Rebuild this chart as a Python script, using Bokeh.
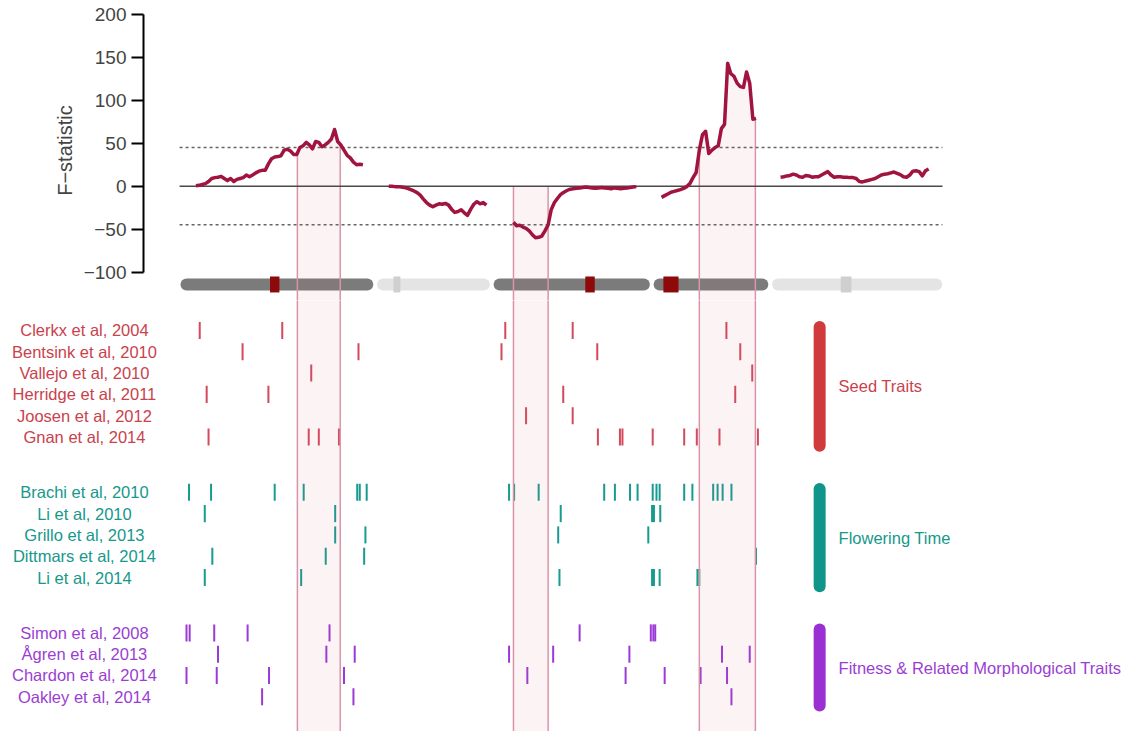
import numpy as np
from bokeh.plotting import figure
from bokeh.layouts import column
from bokeh.models import Range1d, FixedTicker
from bokeh.core.properties import value
from bokeh.embed import file_html
from bokeh.resources import INLINE

FONT = "Liberation Sans"

# ---------------------------------------------------------------------------
# Genome layout: five chromosomes laid end to end (Mb)
# ---------------------------------------------------------------------------
chrom_lengths = [28.7, 16.0, 22.9, 16.3, 25.1]
chrom_gap = 2.5
centromere_mid = [14.0, 2.2, 14.35, 1.8, 10.8]      # Mb from chromosome start
centromere_span = [1.5, 1.1, 1.5, 2.4, 1.7]

# ---------------------------------------------------------------------------
# Sliding-window F-statistic, one window every 0.5 Mb
# ---------------------------------------------------------------------------
window_step = 0.5
fstat_first = [1.5, 0.9, 2.2, 0.3, 0.4]              # first window, Mb from chromosome start
fstat_chr1 = [0.5, 1, 2, 3, 5.5, 9, 10, 10.5, 11.5, 9, 6.5, 9, 5.5, 8, 9, 10,
              13, 11, 13, 15.5, 17.5, 18.5, 18.5, 26, 32, 34, 34.5, 35.5, 42, 43,
              41, 37, 37, 45, 47, 51, 48, 43.5, 52, 51, 46, 48, 51, 55, 66, 52,
              48, 42, 36, 33, 28, 25, 25.5, 25]
fstat_chr2 = [0, 0, -0.5, -0.5, -1, -1.5, -2.5, -4, -5.5, -7.5, -10.5, -15, -19,
              -22, -24, -22, -20.5, -21, -20, -22, -27, -30.5, -29.5, -27.5, -31,
              -34, -27, -21, -18, -20.5, -19, -22]
fstat_chr3 = [-42, -46, -45.5, -47.5, -49, -52, -56.5, -60, -59.5, -58, -52, -45,
              -27, -19, -14, -9.5, -7, -5, -3.5, -3, -2.5, -2, -1.5, -1, -1.5, -2,
              -2.5, -2, -1.5, -2, -2.5, -3, -2, -2.5, -3, -2.5, -2, -1.5, -1, -0.5]
fstat_chr4 = [-13, -11, -9, -7, -6, -5, -4, -2.5, -0.5, 3, 10, 16, 42, 60, 64, 38,
              42, 45, 47, 67, 72, 143, 131, 128, 120, 116, 115, 133, 120, 78, 79]
fstat_chr5 = [10.5, 11, 12, 12.5, 14, 13, 11, 10.5, 12.5, 12, 10.5, 11, 11, 13, 15,
              17, 13, 10.5, 11, 11, 10.5, 10.5, 10, 10, 9, 5.5, 5, 6, 7, 8, 9, 11,
              13, 14, 14.5, 15.5, 16.5, 15, 13.5, 11, 10.5, 13, 17.5, 18, 17, 12,
              18, 20]
fstat_by_chrom = [fstat_chr1, fstat_chr2, fstat_chr3, fstat_chr4, fstat_chr5]
threshold = 45

# Highlighted intervals along the genome (Mb)
highlight_regions = [(17.6, 24.4), (51.9, 57.4), (81.4, 90.3)]

# ---------------------------------------------------------------------------
# Published QTL positions along the genome (Mb), by study
# ---------------------------------------------------------------------------
group_names = ["Seed Traits", "Flowering Time", "Fitness & Related Morphological Traits"]

seed_studies = ["Clerkx et al, 2004", "Bentsink et al, 2010", "Vallejo et al, 2010",
                "Herridge et al, 2011", "Joosen et al, 2012", "Gnan et al, 2014"]
seed_qtl = [
    [2.1, 15.2, 50.6, 61.3, 85.7],
    [8.9, 27.3, 50.0, 65.2, 87.9],
    [19.8, 89.8],
    [3.2, 13.0, 59.8, 87.1],
    [53.9, 61.3],
    [3.5, 19.4, 21.0, 24.2, 65.3, 68.8, 69.2, 74.0, 79.0, 81.0, 84.6, 90.7],
]

flowering_studies = ["Brachi et al, 2010", "Li et al, 2010", "Grillo et al, 2013",
                     "Dittmars et al, 2014", "Li et al, 2014"]
flowering_qtl = [
    [0.4, 3.9, 14.0, 18.6, 27.1, 27.5, 28.6, 51.2, 52.0, 55.9, 66.3, 68.0, 70.4,
     71.6, 74.0, 74.6, 75.1, 79.0, 80.3, 83.6, 84.3, 85.1, 86.5],
    [2.9, 23.6, 59.4, 73.9, 74.2, 75.2],
    [23.6, 28.4, 59.0, 73.3],
    [4.1, 22.1, 28.2, 90.4],
    [2.9, 18.2, 59.2, 73.9, 74.2, 75.1, 81.1, 81.4],
]

fitness_studies = ["Simon et al, 2008", "Ågren et al, 2013", "Chardon et al, 2014",
                   "Oakley et al, 2014"]
fitness_qtl = [
    [0.0, 0.5, 4.4, 9.7, 22.7, 62.4, 73.7, 74.1, 74.4],
    [5.0, 22.2, 26.7, 51.2, 58.2, 70.3, 85.0, 89.4],
    [0.0, 4.8, 13.1, 25.0, 54.1, 69.7, 75.9, 81.6, 85.8],
    [12.0, 26.5, 86.5],
]

# ---------------------------------------------------------------------------
# Styling and layout constants
# ---------------------------------------------------------------------------
curve_color = "#a0143f"
group_bar_colors = ["#d13a3c", "#0f958a", "#9a2fd2"]
group_text_colors = ["#c9424d", "#16988c", "#9a3ed2"]
group_tick_colors = ["#d24a5c", "#179b90", "#9c3ad6"]
chrom_dark, chrom_light = "#7b7b7b", "#e4e4e4"
centro_dark, centro_light = "#8e0a0a", "#cfcfcf"
band_fill, band_edge = "#d9627f", "#d995a8"
text_size = "16.5px"

row_step_gap = 2.6           # blank rows between trait groups
chrom_y = -114.4             # ideogram height on the F-statistic scale
label_x = -16.2              # centre of the study names, genome units
group_bar_x = 100.5
group_label_x = 103.5

# ---------------------------------------------------------------------------
offsets = []
acc = 0.0
for L in chrom_lengths:
    offsets.append(acc)
    acc += L + chrom_gap
genome_end = offsets[-1] + chrom_lengths[-1]

curve_x, curve_y = [], []
for k, vals in enumerate(fstat_by_chrom):
    x0 = offsets[k] + fstat_first[k]
    curve_x.append([x0 + window_step * i for i in range(len(vals))])
    curve_y.append(list(vals))
all_x = np.concatenate([np.array(c) for c in curve_x])
all_y = np.concatenate([np.array(c) for c in curve_y])

has_band = []
for k in range(5):
    s, e = offsets[k], offsets[k] + chrom_lengths[k]
    has_band.append(any(a < e and b > s for a, b in highlight_regions))


def base_fig(height, x_range, y_range, left):
    f = figure(width=1131, height=height, x_range=x_range, y_range=y_range,
               output_backend="svg", toolbar_location=None,
               x_axis_location=None, y_axis_location="left" if left else None,
               min_border_left=left, min_border_right=0, min_border_top=0,
               min_border_bottom=0, outline_line_color=None,
               background_fill_color="white", border_fill_color="white",
               frame_align=False)
    f.grid.visible = False
    return f


# ---------------- upper panel: F-statistic along the genome ----------------
top = base_fig(300, Range1d(-6.825, 150.0), Range1d(-133.06, 216.2), 143)
ax = top.yaxis[0]
ax.bounds = (-100, 200)
ax.ticker = FixedTicker(ticks=[-100, -50, 0, 50, 100, 150, 200])
ax.major_label_overrides = {-100: "\u2212100", -50: "\u221250"}
ax.axis_label = "F\u2212statistic"
ax.axis_label_text_font = FONT
ax.axis_label_text_font_style = "normal"
ax.axis_label_text_font_size = "20px"
ax.axis_label_standoff = 5
ax.major_label_text_font = FONT
ax.major_label_text_font_size = "19px"
ax.major_label_standoff = 5
ax.axis_line_width = 2
ax.axis_line_color = "black"
ax.major_tick_line_width = 2
ax.major_tick_line_color = "black"
ax.major_tick_out = 12
ax.major_tick_in = 0
ax.minor_tick_line_color = None

# chromosome ideogram
top.segment(x0=offsets, y0=[chrom_y] * 5,
            x1=[o + L for o, L in zip(offsets, chrom_lengths)], y1=[chrom_y] * 5,
            line_width=12, line_cap="round",
            line_color=[chrom_dark if h else chrom_light for h in has_band])
top.rect(x=[o + c for o, c in zip(offsets, centromere_mid)], y=[chrom_y] * 5,
         width=centromere_span, height=18.6,
         fill_color=[centro_dark if h else centro_light for h in has_band],
         line_color=None)

# highlighted intervals, shaded from the curve (or zero) downwards; they run
# slightly past the panel edge so the two panels join without a seam
top_floor = top.y_range.start - 5
for a, b in highlight_regions:
    inside = (all_x > a) & (all_x < b)
    top_a = max(float(np.interp(a, all_x, all_y)), 0.0)
    top_b = max(float(np.interp(b, all_x, all_y)), 0.0)
    xs = [a] + list(all_x[inside]) + [b, b, a]
    ys = [top_a] + [max(v, 0.0) for v in all_y[inside]] + [top_b, top_floor, top_floor]
    top.patch(xs, ys, fill_color=band_fill, fill_alpha=0.08, line_color=None)
    top.segment(x0=[a, b], y0=[top_a, top_b], x1=[a, b], y1=[top_floor, top_floor],
                line_color=band_edge, line_width=1.5)

# reference lines
line_x0, line_x1 = -1.1, genome_end + 1.0
for t in (threshold, -threshold):
    top.segment(x0=[line_x0], y0=[t], x1=[line_x1], y1=[t], line_color="#666666",
                line_width=1.5, line_dash="3 3")
top.segment(x0=[line_x0], y0=[0], x1=[line_x1], y1=[0], line_color="#4a4a4a",
            line_width=1.5)

top.multi_line(xs=curve_x, ys=curve_y, line_color=curve_color, line_width=3.5,
               line_join="round")

# ---------------- lower panel: QTL reported by earlier studies ----------------
bottom = base_fig(431, Range1d(-29.524, 150.0), Range1d(18.83, -1.408), 0)

groups = [(seed_studies, seed_qtl), (flowering_studies, flowering_qtl),
          (fitness_studies, fitness_qtl)]
row = 0.0
lab_names, lab_rows, lab_colors = [], [], []
for g, (names, qtls) in enumerate(groups):
    first_row = row
    tx, ty0, ty1 = [], [], []
    for name, pos in zip(names, qtls):
        lab_names.append(name)
        lab_rows.append(row)
        lab_colors.append(group_text_colors[g])
        for x in pos:
            tx.append(x)
            ty0.append(row - 0.4)
            ty1.append(row + 0.4)
        row += 1
    last_row = row - 1
    bottom.segment(x0=tx, y0=ty0, x1=tx, y1=ty1, line_width=2,
                   line_color=group_tick_colors[g])
    bar_top, bar_bot = first_row - 0.16, last_row + 0.41
    bottom.segment(x0=[group_bar_x], y0=[bar_top], x1=[group_bar_x], y1=[bar_bot],
                   line_width=12, line_cap="round", line_color=group_bar_colors[g])
    bottom.text(x=[group_label_x], y=[(bar_top + bar_bot) / 2], text=[group_names[g]],
                text_font=value(FONT), text_font_size=value(text_size),
                text_color=group_text_colors[g], text_align="left",
                text_baseline="middle")
    row = last_row + row_step_gap

bottom.text(x=[label_x] * len(lab_names), y=lab_rows, text=lab_names,
            text_color=lab_colors, text_align="center", text_baseline="middle",
            text_font=value(FONT), text_font_size=value(text_size))

# continuation of the highlighted intervals
y_hi, y_lo = bottom.y_range.end - 0.3, bottom.y_range.start
for a, b in highlight_regions:
    bottom.quad(left=[a], right=[b], top=[y_hi], bottom=[y_lo],
                fill_color=band_fill, fill_alpha=0.08, line_color=None)
    bottom.segment(x0=[a, b], y0=[y_hi, y_hi], x1=[a, b], y1=[y_lo, y_lo],
                   line_color=band_edge, line_width=1.5)

layout = column(top, bottom, spacing=0)
open("out.html", "w").write(file_html(layout, INLINE))
